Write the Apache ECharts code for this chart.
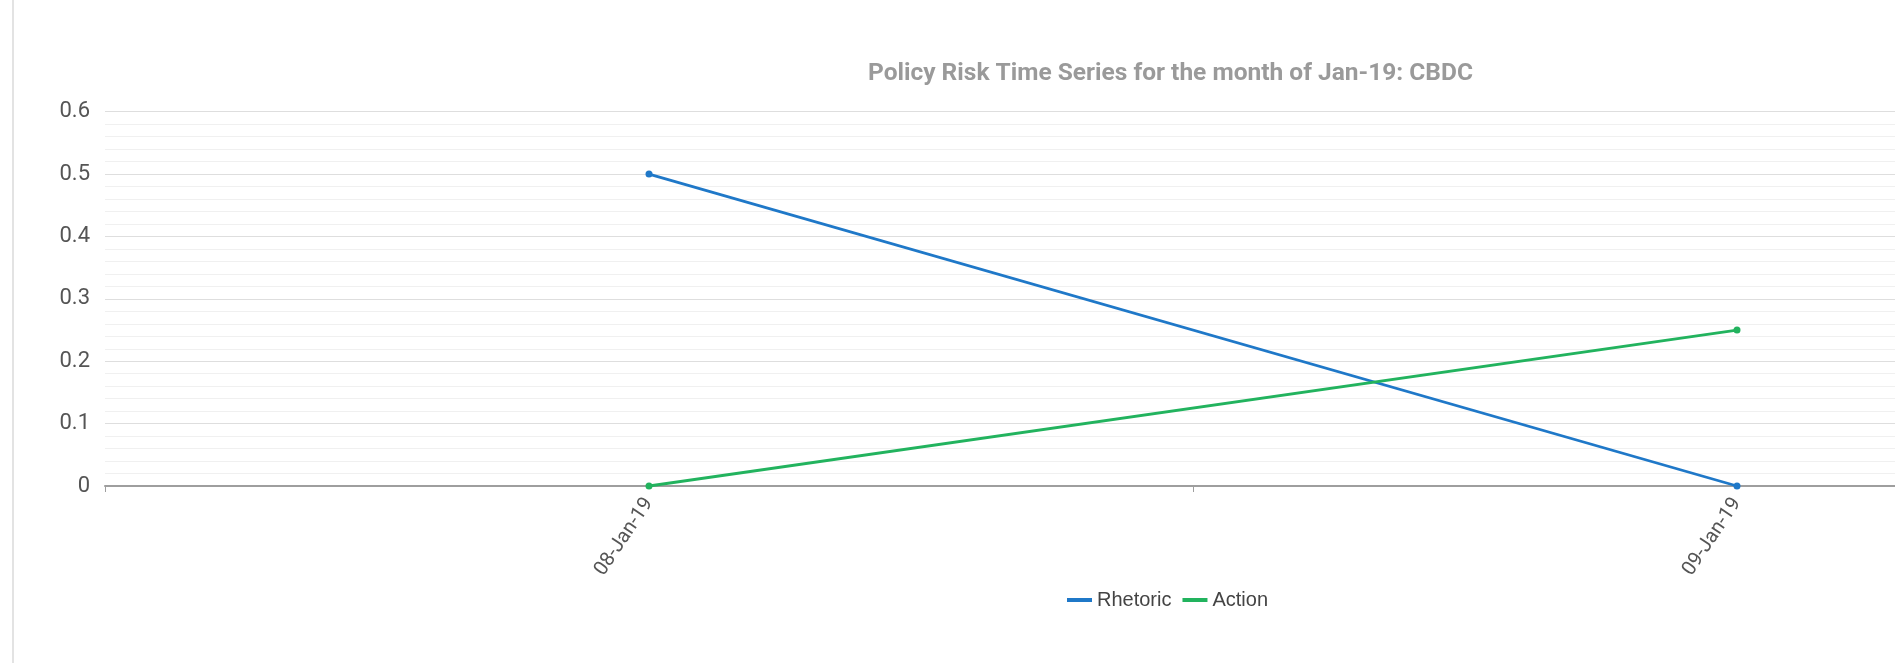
<!DOCTYPE html>
<html>
<head>
<meta charset="utf-8">
<script src="https://cdn.jsdelivr.net/npm/echarts@6/dist/echarts.min.js"></script>
<style>
html,body{margin:0;padding:0;background:#fff;overflow:hidden;width:1895px;height:663px;}
#wrap{position:absolute;left:0;top:0;width:1895px;height:663px;overflow:hidden;}
#border{position:absolute;left:12px;top:0;width:2px;height:663px;background:#e3e3e3;}
#chart{position:absolute;left:0;top:0;width:2400px;height:663px;}
</style>
</head>
<body>
<div id="wrap">
<div id="border"></div>
<div id="chart"></div>
</div>
<script>
const titleText = 'Policy Risk Time Series for the month of Jan-19: CBDC';
const categories = ['08-Jan-19', '09-Jan-19'];
const rhetoric = [0.5, 0];
const action = [0, 0.25];
const yTicks = [0, 0.1, 0.2, 0.3, 0.4, 0.5, 0.6];

const chart = echarts.init(document.getElementById('chart'));
chart.setOption({
  animation: false,
  title: {
    text: titleText,
    left: 868,
    top: 61,
    padding: 0,
    textStyle: {fontFamily: 'Roboto', fontWeight: 'bold', fontSize: 24.5, color: '#9a9a9a'}
  },
  legend: {
    data: ['Rhetoric', 'Action'],
    left: 1067,
    top: 590,
    padding: 0,
    icon: 'rect',
    itemWidth: 25,
    itemHeight: 4,
    itemGap: 11,
    textStyle: {fontFamily: 'Liberation Sans', fontSize: 20, color: '#444'}
  },
  grid: {left: 105, top: 111.7, width: 2176, height: 374.3, containLabel: false},
  xAxis: {
    type: 'category',
    data: categories,
    boundaryGap: true,
    axisLine: {show: true, lineStyle: {color: '#9e9e9e', width: 2}},
    axisTick: {show: true, length: 6, lineStyle: {color: '#9e9e9e'}},
    axisLabel: {rotate: 56, margin: 14, fontFamily: 'Roboto', fontSize: 20, color: '#555'},
    splitLine: {show: false}
  },
  yAxis: {
    type: 'value',
    min: yTicks[0],
    max: yTicks[yTicks.length - 1],
    interval: 0.1,
    axisLine: {show: false},
    axisTick: {show: false},
    axisLabel: {margin: 15, fontFamily: 'Roboto', fontSize: 22, color: '#555'},
    splitLine: {show: true, lineStyle: {color: '#dedede', width: 1}},
    minorTick: {show: false, splitNumber: 5},
    minorSplitLine: {show: true, lineStyle: {color: '#f0f0f0', width: 1}}
  },
  series: [
    {
      name: 'Rhetoric', type: 'line', data: rhetoric,
      symbol: 'circle', symbolSize: 7,
      lineStyle: {color: '#1f78c8', width: 2.8},
      itemStyle: {color: '#1f78c8'}
    },
    {
      name: 'Action', type: 'line', data: action,
      symbol: 'circle', symbolSize: 7,
      lineStyle: {color: '#22b35e', width: 2.8},
      itemStyle: {color: '#22b35e'}
    }
  ]
});
</script>
</body>
</html>
